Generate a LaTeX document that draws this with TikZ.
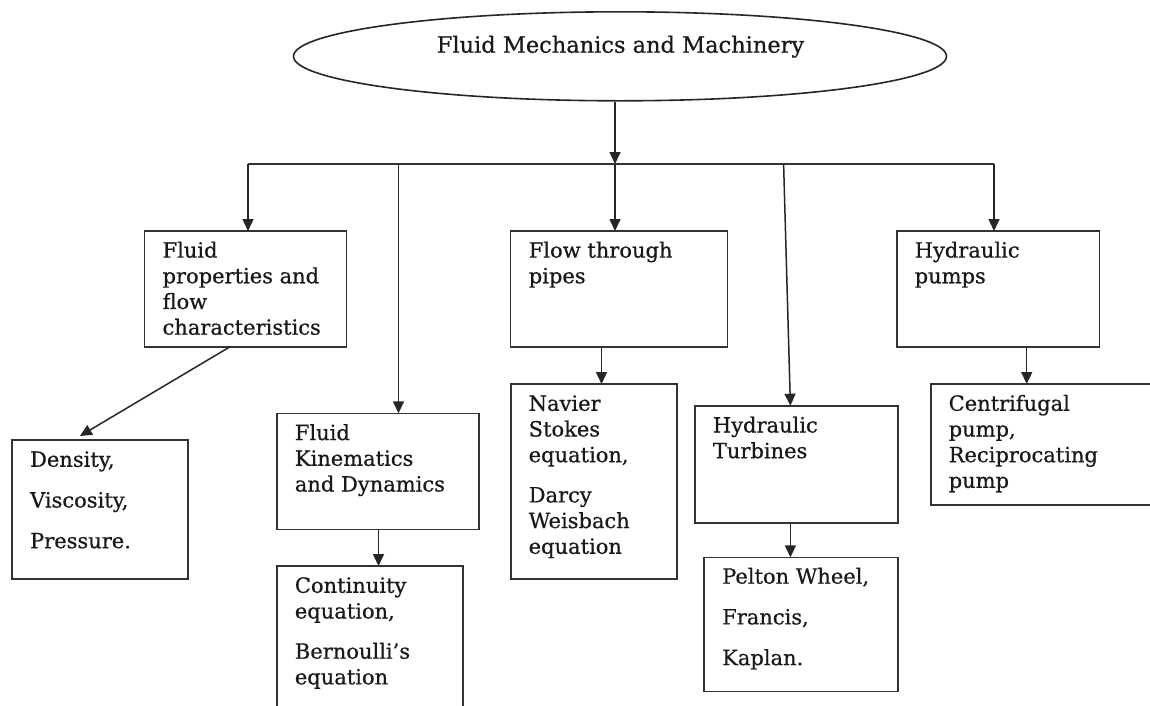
\documentclass[tikz,border=0pt]{standalone}
\usepackage{fontspec}
\setmainfont{DejaVu Serif}
\newfontfamily\boxfont[FakeBold=0.6]{DejaVu Serif}
\usetikzlibrary{arrows.meta,calc,shapes.geometric}

\begin{document}
\begin{tikzpicture}[x=1pt,y=-1pt,
  boxnode/.style={draw=black!80, line width=1.6pt, rectangle, inner sep=0pt, outer sep=0pt, anchor=north west},
  boxtext/.style={anchor=north west, inner sep=0pt, align=left, font=\boxfont\fontsize{21}{25.7}\selectfont, text=black!90},
  conn/.style={draw=black!85, line width=1.5pt, -{Triangle[length=12pt,width=11pt]}},
  barline/.style={draw=black!80, line width=1.6pt}
]
\useasboundingbox (0,0) rectangle (1150,705);
\clip (0,0) rectangle (1150,705);

% root
\node[draw=black!85, line width=1.6pt, ellipse, minimum width=653pt, minimum height=89pt, inner sep=0pt] (root) at (620,56.3) {};
\node[anchor=base, inner sep=0pt, font=\boxfont\fontsize{22.5}{26}\selectfont, text=black!90] (title) at (620.5,52.7) {Fluid Mechanics and Machinery};

% boxes
\node[boxnode, minimum width=202pt, minimum height=116pt] (fp) at (144.4,231) {};
\node[boxnode, minimum width=176pt, minimum height=139pt] (dn) at (11.9,440) {};
\node[boxnode, minimum width=202pt, minimum height=116pt] (fk) at (276.7,413.3) {};
\node[boxnode, minimum width=186pt, minimum height=160pt] (ce) at (276.7,566) {};
\node[boxnode, minimum width=217pt, minimum height=116pt] (fl) at (510.6,231) {};
\node[boxnode, minimum width=166pt, minimum height=195pt] (ns) at (511,384) {};
\node[boxnode, minimum width=202.6pt, minimum height=117pt] (ht) at (695.2,405.7) {};
\node[boxnode, minimum width=194pt, minimum height=134pt] (pw) at (704,557.3) {};
\node[boxnode, minimum width=202.6pt, minimum height=116pt] (hp) at (897,231) {};
\node[boxnode, minimum width=240pt, minimum height=121pt] (cp) at (931,384) {};

% box texts
\node[boxtext] (fpt) at ($(fp.north west)+(18,8.4)$) {\strut Fluid\\properties and\\flow\\characteristics};
\node[boxtext] (dnt) at ($(dn.north west)+(18,8.6)$) {\strut Density,\\[15pt]Viscosity,\\[15pt]Pressure.};
\node[boxtext] (fkt) at ($(fk.north west)+(18,8.6)$) {\strut Fluid\\Kinematics\\and Dynamics};
\node[boxtext] (cet) at ($(ce.north west)+(18,8.6)$) {\strut Continuity\\equation,\\[14.5pt]Bernoulli’s\\equation};
\node[boxtext] (flt) at ($(fl.north west)+(18,8.4)$) {\strut Flow through\\pipes};
\node[boxtext] (nst) at ($(ns.north west)+(17.5,8.6)$) {\strut Navier\\Stokes\\equation,\\[14.5pt]Darcy\\Weisbach\\equation};
\node[boxtext] (htt) at ($(ht.north west)+(17.5,8.6)$) {\strut Hydraulic\\Turbines};
\node[boxtext] (pwt) at ($(pw.north west)+(18,8.2)$) {\strut Pelton Wheel,\\[15pt]Francis,\\[15pt]Kaplan.};
\node[boxtext] (hpt) at ($(hp.north west)+(17.5,8.4)$) {\strut Hydraulic\\pumps};
\node[boxtext] (cpt) at ($(cp.north west)+(17.5,8.6)$) {\strut Centrifugal\\pump,\\Reciprocating\\pump};

% distribution bar
\coordinate (bl) at (248,164);
\coordinate (bk) at (398.5,164);
\coordinate (bm) at (615,164);
\coordinate (bt) at (783.6,164);
\coordinate (br) at (994,164);
\draw[barline] (bl) -- (br);

\draw[conn] (root.south -| bm) -- (bm);
\draw[conn] (bl) -- (bl |- fp.north);
\draw[conn] (bk) -- (bk |- fk.north);
\draw[conn] (bm) -- (bm |- fl.north);
\draw[conn] (bt) -- (790.4,0 |- ht.north);
\draw[conn] (br) -- (br |- hp.north);

% second level links
\draw[conn] (229.6,0 |- fp.south) -- ($(dn.north west)+(68,-4)$);
\draw[conn] (378.5,0 |- fk.south) -- (378.5,0 |- ce.north);
\draw[conn] (601.5,0 |- fl.south) -- (601.5,0 |- ns.north);
\draw[conn] (790.4,0 |- ht.south) -- (790.4,0 |- pw.north);
\draw[conn] (1026.7,0 |- hp.south) -- (1026.7,0 |- cp.north);
\end{tikzpicture}
\end{document}
